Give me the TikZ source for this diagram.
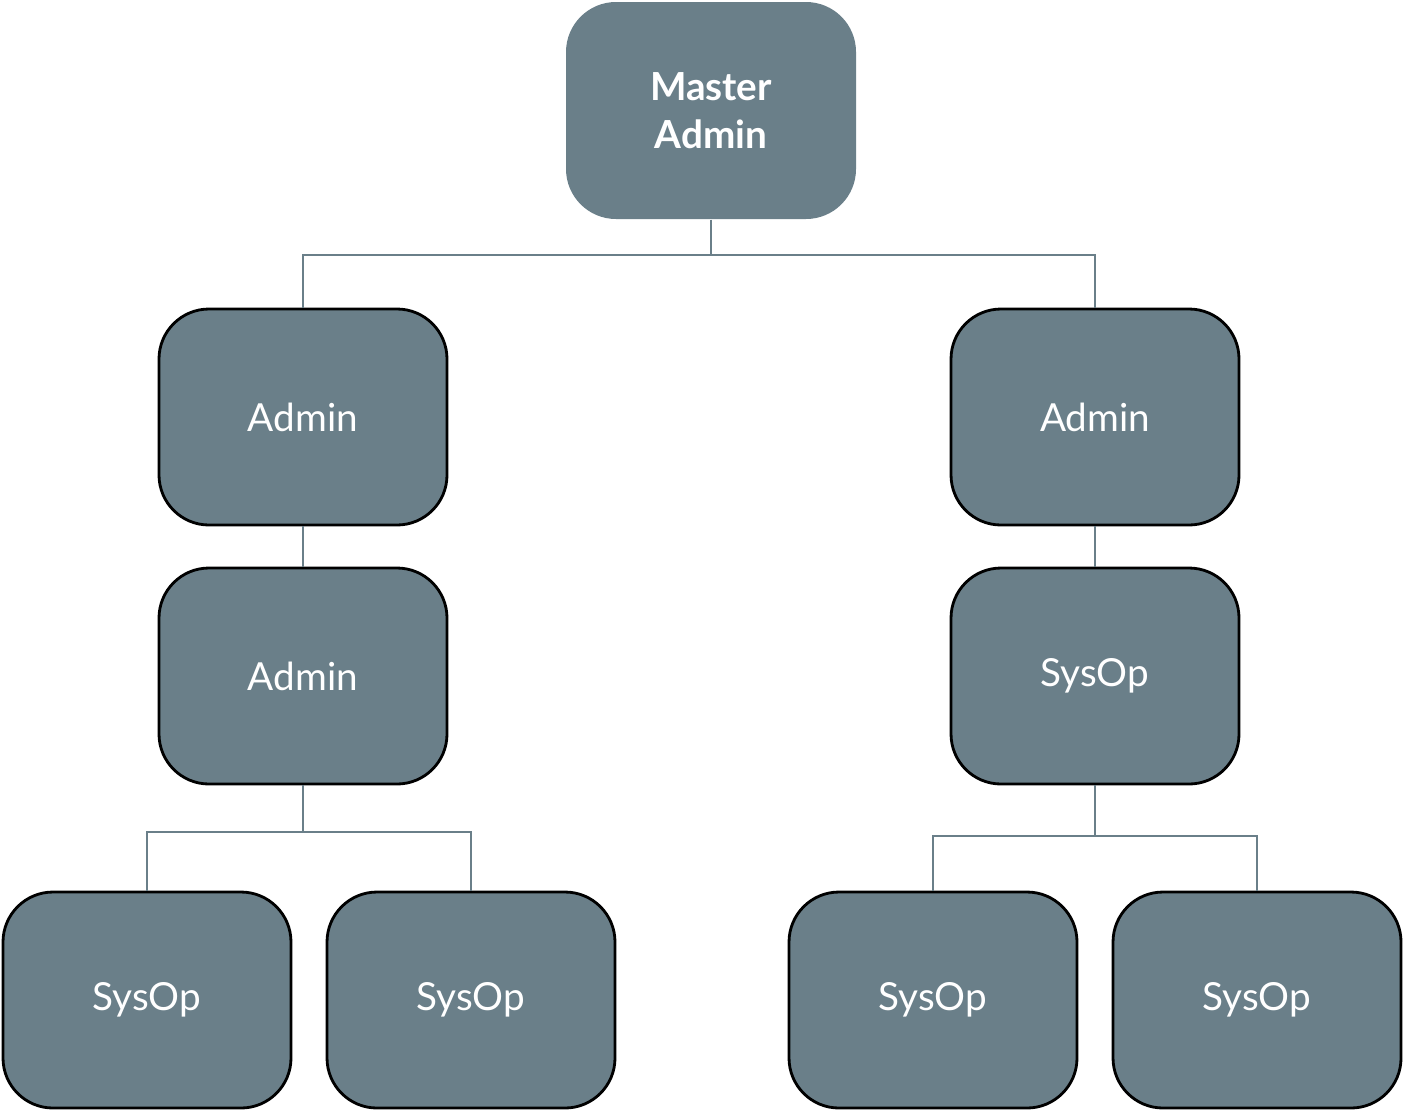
\documentclass[tikz,border=0pt]{standalone}
\usepackage{fontspec}
\setmainfont{Lato}
\usepackage{xcolor}
\definecolor{boxgray}{HTML}{6A7F89}
\usetikzlibrary{positioning}

\begin{document}
\begin{tikzpicture}[
        rolebox/.style={draw=black, line width=0.8pt, fill=boxgray, rounded corners=0.5cm,
            minimum width=2.88cm, minimum height=2.16cm, text=white, font=\fontsize{11}{13}\selectfont},
        topbox/.style={fill=boxgray, rounded corners=0.5cm, minimum width=2.9cm, minimum height=2.17cm,
            text=white, align=center, font=\bfseries\fontsize{11}{13.5}\selectfont},
        link/.style={draw=boxgray, line width=0.7pt}
    ]
        \useasboundingbox (0,0) rectangle (14.04,-11.11);

        % top level
        \node[topbox] (master) at (7.11,-1.105) {Master\\Admin};

        % second level
        \node[rolebox] (adminL) at (3.03,-4.17) {Admin};
        \node[rolebox] (adminR) at (10.95,-4.17) {Admin};

        % third level
        \node[rolebox] (adminLL) at (3.03,-6.76) {Admin};
        \node[rolebox] (sysopR) at (10.95,-6.76) {SysOp};

        % bottom row
        \node[rolebox] (sysop1) at (1.47,-10.00) {SysOp};
        \node[rolebox] (sysop2) at (4.71,-10.00) {SysOp};
        \node[rolebox] (sysop3) at (9.33,-10.00) {SysOp};
        \node[rolebox] (sysop4) at (12.57,-10.00) {SysOp};

        % junctions
        \coordinate (jtop) at (7.11,-2.55);
        \coordinate (jleft) at (3.03,-8.32);
        \coordinate (jright) at (10.95,-8.36);

        % connectors
        \draw[link] (master.south) -- (jtop) -| (adminL.north);
        \draw[link] (jtop) -| (adminR.north);
        \draw[link] (adminL.south) -- (adminLL.north);
        \draw[link] (adminR.south) -- (sysopR.north);
        \draw[link] (adminLL.south) -- (jleft) -| (sysop1.north);
        \draw[link] (jleft) -| (sysop2.north);
        \draw[link] (sysopR.south) -- (jright) -| (sysop3.north);
        \draw[link] (jright) -| (sysop4.north);
    \end{tikzpicture}
\end{document}
